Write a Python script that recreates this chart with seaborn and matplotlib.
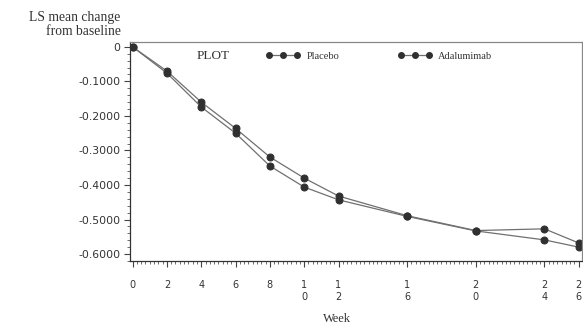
import numpy as np
import pandas as pd
import matplotlib
matplotlib.use("Agg")
import matplotlib.pyplot as plt
import seaborn as sns
from matplotlib.ticker import MultipleLocator

# values
weeks = [0, 2, 4, 6, 8, 10, 12, 16, 20, 24, 26]
placebo = [0.0, -0.070, -0.160, -0.236, -0.319, -0.380, -0.432, -0.489, -0.532, -0.527, -0.568]
adalimumab = [0.0, -0.076, -0.174, -0.250, -0.345, -0.406, -0.443, -0.491, -0.533, -0.559, -0.580]
group_names = ["Placebo", "Adalumimab"]
tick_weeks = [0, 2, 4, 6, 8, 10, 12, 16, 20, 24, 26]
tick_labels = ["0", "2", "4", "6", "8", "1\n0", "1\n2", "1\n6", "2\n0", "2\n4", "2\n6"]
y_ticks = [0, -0.1, -0.2, -0.3, -0.4, -0.5, -0.6]
y_labels = ["0", "-0.1000", "-0.2000", "-0.3000", "-0.4000", "-0.5000", "-0.6000"]

df = pd.DataFrame({
    "week": weeks * 2,
    "change": placebo + adalimumab,
    "group": [group_names[0]] * len(weeks) + [group_names[1]] * len(weeks),
})

sns.set_style("white")
plt.rcParams["font.family"] = ["DejaVu Sans"]

fig = plt.figure(figsize=(5.83, 3.27), dpi=100)
ax = fig.add_axes([0.223, 0.202, 0.775, 0.670])

sns.lineplot(data=df, x="week", y="change", hue="group",
             palette=["#707070", "#707070"], marker="o", markersize=5,
             markerfacecolor="#303030", markeredgecolor="#303030",
             linewidth=0.9, ax=ax, legend=False)

ax.set_xlim(-0.15, 26.18)
ax.set_ylim(-0.62, 0.0145)

ax.set_xticks(tick_weeks)
ax.set_xticklabels(tick_labels, fontsize=7, color="#333333", linespacing=1.25, va="top")
ax.xaxis.set_minor_locator(MultipleLocator(0.25))
ax.set_yticks(y_ticks)
ax.set_yticklabels(y_labels, fontsize=7.8, color="#333333")
ax.yaxis.set_minor_locator(MultipleLocator(0.02))
ax.tick_params(which="major", direction="out", length=4, width=0.8, color="#444444",
               bottom=True, left=True)
ax.tick_params(which="minor", direction="out", length=2, width=0.6, color="#555555",
               bottom=True, left=True)
ax.tick_params(axis="y", pad=3)
ax.tick_params(axis="x", pad=10)

for s in ax.spines.values():
    s.set_color("#888888")
    s.set_linewidth(0.9)
ax.spines["left"].set_color("#333333")
ax.spines["bottom"].set_color("#333333")

ax.set_xlabel("")
ax.set_ylabel("")
serif = ["Liberation Serif", "DejaVu Serif"]
fig.text(0.207, 0.965, "LS mean change\nfrom baseline", ha="right", va="top",
         fontsize=9.8, family=serif, color="#333333", linespacing=1.05)
fig.text(0.578, 0.005, "Week", ha="center", va="bottom", fontsize=9,
         family=serif, color="#333333")

# legend inside the frame
ax.text(0.148, 0.935, "PLOT", transform=ax.transAxes, ha="left", va="center",
        fontsize=9.5, family=serif, color="#333333")
handles = [plt.Line2D([], [], color="#707070", lw=0.9, marker="o", markersize=4,
                      markerfacecolor="#303030", markeredgecolor="#303030")
           for _ in group_names]
leg = ax.legend(handles, group_names, ncol=2, numpoints=3, frameon=False,
                loc="center left", bbox_to_anchor=(0.28, 0.935), handlelength=3.3,
                handletextpad=0.6, columnspacing=5.6,
                prop={"family": serif, "size": 7.5})
for t in leg.get_texts():
    t.set_color("#333333")

fig.savefig("out.png", dpi=100)
